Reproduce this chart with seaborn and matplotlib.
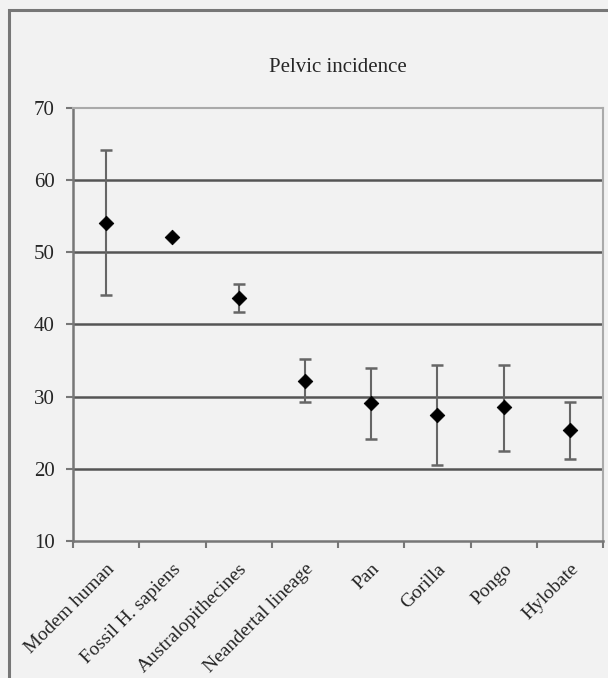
import matplotlib
matplotlib.use("Agg")
import matplotlib.pyplot as plt
import seaborn as sns
import pandas as pd
from matplotlib.patches import Rectangle
from matplotlib.ticker import FixedLocator

# Data
groups = ["Modem human", "Fossil H. sapiens", "Australopithecines",
          "Neandertal lineage", "Pan", "Gorilla", "Pongo", "Hylobate"]
means = [54.1, 52.1, 43.6, 32.2, 29.1, 27.4, 28.5, 25.4]
lower = [44.1, 52.1, 41.7, 29.2, 24.1, 20.5, 22.5, 21.3]
upper = [64.2, 52.1, 45.6, 35.2, 34.0, 34.4, 34.4, 29.3]

sns.set_theme(style="white")
plt.rcParams['font.family'] = ['Liberation Serif', 'DejaVu Serif']

bg = "#f2f2f2"
df = pd.DataFrame({"group": groups, "mean": means, "low": lower, "high": upper})

fig = plt.figure(figsize=(6.08, 6.78), dpi=100, facecolor=bg)
ax = fig.add_axes([0.120, 0.202, 0.872, 0.639])
ax.set_facecolor(bg)

# outer frame around the whole chart (cut at right and bottom)
fig.patches.append(Rectangle((0.014, -0.05), 1.2, 1.035, transform=fig.transFigure,
                             fill=False, edgecolor="#777777", linewidth=2.2, zorder=0))

err = [df["mean"] - df["low"], df["high"] - df["mean"]]
ax.errorbar(df["group"], df["mean"], yerr=err, fmt="none", ecolor="#666666",
            elinewidth=1.5, capsize=4, capthick=1.8, zorder=2)
sns.scatterplot(data=df, x="group", y="mean", marker="D", s=55, color="black",
                edgecolor="black", ax=ax, zorder=3, legend=False)

ax.set_ylim(10, 70)
ax.set_xlim(-0.5, len(groups) - 0.5)
ax.set_yticks(range(10, 71, 10))
ax.set_xlabel("")
ax.set_ylabel("")

for y in range(20, 61, 10):
    ax.axhline(y, color="#555555", linewidth=1.8, zorder=1)

ax.set_title("Pelvic incidence", fontsize=15, pad=26)

ax.tick_params(axis="y", which="major", left=True, length=5, width=1.5,
               color="#777777", labelsize=15, pad=8)
ax.tick_params(axis="x", which="major", bottom=False, labelsize=14, pad=8)
ax.set_xticks(range(len(groups)))
ax.set_xticklabels(groups, rotation=45, ha="right", rotation_mode="anchor")
ax.xaxis.set_minor_locator(FixedLocator([i - 0.5 for i in range(len(groups) + 1)]))
ax.tick_params(axis="x", which="minor", bottom=True, length=5, width=1.5, color="#777777")

for side in ["left", "bottom"]:
    ax.spines[side].set_color("#777777")
    ax.spines[side].set_linewidth(1.8)
for side in ["top", "right"]:
    ax.spines[side].set_color("#aaaaaa")
    ax.spines[side].set_linewidth(1.5)

fig.savefig("out.png", dpi=100, facecolor=bg)
